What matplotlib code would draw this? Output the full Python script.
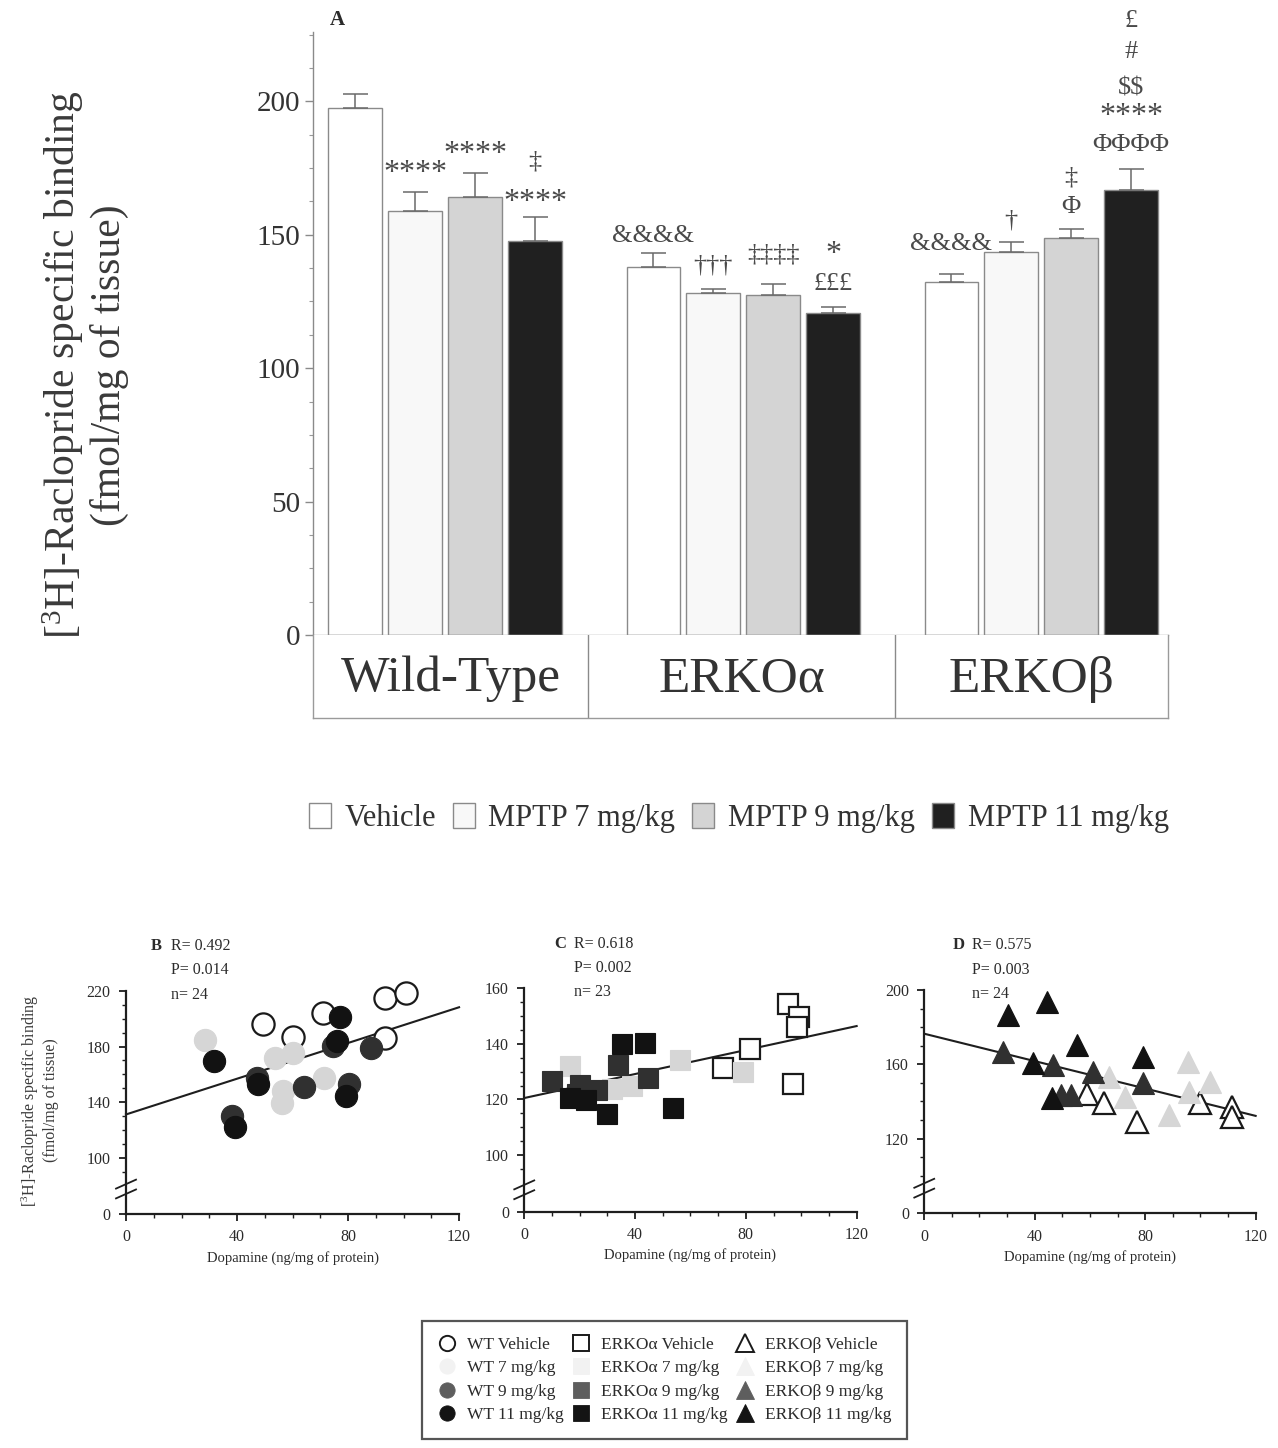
import numpy as np
import matplotlib
matplotlib.use("Agg")
import matplotlib.pyplot as plt
from matplotlib.patches import Patch
from matplotlib.lines import Line2D
from matplotlib.ticker import FixedLocator, MultipleLocator

plt.rcParams["font.family"] = ["Liberation Serif", "DejaVu Serif"]
plt.rcParams["mathtext.fontset"] = "custom"
plt.rcParams["mathtext.rm"] = "Liberation Serif"
plt.rcParams["mathtext.it"] = "Liberation Serif:italic"

TXT = "#2b2b2b"

# ==========================
# PANEL A DATA
# ==========================
groups = ["Wild-Type", "ERKOα", "ERKOβ"]
treatments = ["Vehicle", "MPTP 7 mg/kg", "MPTP 9 mg/kg", "MPTP 11 mg/kg"]
bar_colors = ["#ffffff", "#f8f8f8", "#d4d4d4", "#202020"]

means = [
    [197.4, 158.8, 164.0, 147.8],   # Wild-Type
    [138.1, 128.0, 127.3, 120.6],   # ERKOa
    [132.4, 143.6, 148.8, 166.9],   # ERKOb
]
sems = [
    [5.4, 7.1, 9.1, 9.0],
    [4.9, 1.8, 4.2, 2.4],
    [2.9, 3.7, 3.3, 7.6],
]

# (group, bar, symbols, y position)
marks = [
    (0, 1, "****", 173.0), (0, 2, "****", 180.0),
    (0, 3, "‡", 177.5), (0, 3, "****", 162.0),
    (1, 0, "&&&&", 149.5), (1, 1, "†††", 138.5), (1, 2, "‡‡‡‡", 142.5),
    (1, 3, "*", 142.5), (1, 3, "£££", 131.5),
    (2, 0, "&&&&", 146.5), (2, 1, "†", 155.5),
    (2, 2, "‡", 171.5), (2, 2, "Φ", 160.5),
    (2, 3, "£", 230.0), (2, 3, "#", 218.5), (2, 3, r"\$\$", 205.0),
    (2, 3, "****", 194.5), (2, 3, "ΦΦΦΦ", 183.5),
]

# ==========================
# PANELS B-D DATA (dopamine vs binding)
# ==========================
wt_veh_x = [49.4, 60.3, 70.8, 93.3, 100.8, 93.3]
wt_veh_y = [196.0, 186.6, 204.4, 215.2, 218.3, 185.9]
wt_7_x = [28.5, 53.7, 60.0, 56.7, 56.1, 71.3]
wt_7_y = [184.7, 171.5, 175.1, 148.1, 139.1, 157.1]
wt_9_x = [47.1, 64.1, 74.7, 88.1, 80.4, 38.3]
wt_9_y = [157.1, 150.6, 180.4, 178.7, 153.0, 130.1]
wt_11_x = [31.7, 47.4, 39.3, 76.2, 77.1, 79.2]
wt_11_y = [169.8, 153.0, 121.8, 184.0, 201.0, 144.5]

ka_veh_x = [95.3, 99.3, 98.3, 81.5, 71.6, 96.9]
ka_veh_y = [154.4, 149.6, 146.2, 138.1, 131.2, 125.6]
ka_7_x = [16.5, 31.6, 38.8, 56.2, 79.1]
ka_7_y = [132.1, 123.7, 124.9, 134.2, 130.0]
ka_9_x = [20.1, 26.1, 33.7, 44.8, 9.9, 19.0]
ka_9_y = [125.2, 123.4, 132.4, 127.6, 126.8, 122.0]
ka_11_x = [16.5, 22.3, 29.7, 35.2, 43.6, 53.8]
ka_11_y = [120.4, 119.8, 114.7, 139.9, 140.2, 116.8]

kb_veh_x = [59.0, 65.1, 76.9, 99.8, 111.3, 111.3]
kb_veh_y = [143.9, 139.2, 129.0, 139.1, 137.1, 131.4]
kb_7_x = [67.0, 72.7, 88.7, 95.6, 95.9, 103.4]
kb_7_y = [153.3, 142.5, 132.6, 161.4, 145.2, 150.6]
kb_9_x = [28.4, 46.5, 61.0, 79.3, 49.7, 53.0]
kb_9_y = [166.7, 159.6, 156.0, 149.7, 143.4, 143.4]
kb_11_x = [30.4, 44.3, 39.2, 55.2, 79.3, 46.1]
kb_11_y = [186.5, 193.7, 160.5, 170.4, 164.0, 141.6]

# regression lines, y at dopamine = 0 and 120
fit_x = [0, 120]
fit_b = [131.1, 208.3]
fit_c = [120.5, 146.4]
fit_d = [176.5, 132.2]

stats_b = ["R= 0.492", "P= 0.014", "n= 24"]
stats_c = ["R= 0.618", "P= 0.002", "n= 23"]
stats_d = ["R= 0.575", "P= 0.003", "n= 24"]

pt_colors = {"veh": "none", "7": "#d6d6d6", "9": "#303030", "11": "#121212"}


def broken_scale(ax, y_break, y_zero):
    """Linear axis above y_break, 0..y_break squeezed into y_zero..y_break."""
    def fwd(y):
        y = np.asarray(y, dtype=float)
        return np.where(y >= y_break, y, y_zero + y * (y_break - y_zero) / y_break)

    def inv(v):
        v = np.asarray(v, dtype=float)
        return np.where(v >= y_break, v, (v - y_zero) * y_break / (y_break - y_zero))

    ax.set_yscale("function", functions=(fwd, inv))


def style_small(ax, ymax, majors, minors, y_break, y_zero, brk_frac):
    broken_scale(ax, y_break, y_zero)
    ax.set_xlim(0, 120)
    ax.set_ylim(0, ymax)
    ax.yaxis.set_major_locator(FixedLocator(majors))
    ax.yaxis.set_minor_locator(FixedLocator(minors))
    ax.xaxis.set_major_locator(FixedLocator([0, 40, 80, 120]))
    ax.xaxis.set_minor_locator(MultipleLocator(10))
    ax.yaxis.set_major_formatter(matplotlib.ticker.FuncFormatter(lambda v, p: f"{v:.0f}"))
    for s in ["top", "right"]:
        ax.spines[s].set_visible(False)
    for s in ["left", "bottom"]:
        ax.spines[s].set_linewidth(1.6)
        ax.spines[s].set_color("#1e1e1e")
    ax.tick_params(axis="both", which="major", length=5, width=1.3, labelsize=11.5,
                   colors="#1e1e1e", labelcolor=TXT, pad=6)
    ax.tick_params(axis="both", which="minor", length=3, width=1.0, colors="#1e1e1e")
    ax.set_xlabel("Dopamine (ng/mg of protein)", fontsize=10.5, color=TXT, labelpad=4)
    # axis break marks
    for off in (-0.022, 0.022):
        ax.plot([-0.03, 0.03], [brk_frac + off - 0.02, brk_frac + off + 0.02],
                transform=ax.transAxes, color="#1e1e1e", lw=1.3, clip_on=False)


def put_stats(ax, letter, lines, x0):
    ax.text(x0, 1.20, letter, transform=ax.transAxes, fontsize=12, fontweight="bold",
            color=TXT, va="center")
    for i, s in enumerate(lines):
        ax.text(x0 + 0.06, 1.20 - i * 0.108, s, transform=ax.transAxes, fontsize=11.5,
                color=TXT, va="center")


fig = plt.figure(figsize=(12.78, 14.48), dpi=100)

# ==========================
# PANEL A
# ==========================
axA = fig.add_axes([0.2449, 0.5615, 0.6690, 0.4164])
pitch, width = 0.2013, 0.178
for g in range(3):
    for i in range(4):
        xc = g + (i - 1.5) * pitch
        axA.bar(xc, means[g][i], width=width, color=bar_colors[i],
                edgecolor="#8a8a8a", linewidth=1.0, zorder=2)
        axA.errorbar(xc, means[g][i], yerr=[[0], [sems[g][i]]], fmt="none",
                     ecolor="#6a6a6a", elinewidth=1.1, capsize=9, capthick=1.1, zorder=3)

for g, i, sym, y in marks:
    xc = g + (i - 1.5) * pitch
    fs = 23 if "*" in sym else 19
    axA.text(xc, y, sym, ha="center", va="center", fontsize=fs, color="#4a4a4a",
             clip_on=False)

axA.set_xlim(-0.443, 2.426)
axA.set_ylim(0, 226)
axA.yaxis.set_major_locator(FixedLocator([0, 50, 100, 150, 200]))
axA.yaxis.set_minor_locator(MultipleLocator(12.5))
axA.set_xticks([])
for s in ["top", "right"]:
    axA.spines[s].set_visible(False)
axA.spines["left"].set_color("#8a8a8a")
axA.spines["bottom"].set_color("#9a9a9a")
axA.spines["left"].set_linewidth(1.0)
axA.spines["bottom"].set_linewidth(1.0)
axA.tick_params(axis="y", which="major", length=6, width=1.0, colors="#8a8a8a",
                labelsize=21, labelcolor="#333333", pad=3)
axA.tick_params(axis="y", which="minor", length=3, width=0.8, colors="#9a9a9a")
axA.text(0.02, 1.02, "A", transform=axA.transAxes, fontsize=15, fontweight="bold",
         color=TXT, va="center", ha="left")

fig.text(0.066, 0.748,
         "[$^3$H]-Raclopride specific binding\n(fmol/mg of tissue)",
         rotation=90, ha="center", va="center", fontsize=30, color="#3a3a3a",
         linespacing=1.15, multialignment="center")

# group name table under the bars
axT = fig.add_axes([0.2449, 0.5041, 0.6690, 0.0573])
axT.set_xlim(-0.443, 2.426)
axT.set_ylim(0, 1)
axT.set_xticks([])
axT.set_yticks([])
for s in axT.spines.values():
    s.set_color("#9a9a9a")
    s.set_linewidth(1.0)
axT.spines["top"].set_visible(False)
for xb in (0.480, 1.510):
    axT.axvline(xb, color="#8a8a8a", lw=1.0)
for name, xc in zip(groups, [0.019, 0.995, 1.968]):
    axT.text(xc, 0.47, name, ha="center", va="center", fontsize=37, color="#333333")

legA = [Patch(facecolor=c, edgecolor="#8a8a8a", linewidth=1.0) for c in bar_colors]
fig.legend(legA, treatments, loc="center", bbox_to_anchor=(0.578, 0.435), ncol=4,
           frameon=False, fontsize=22, handlelength=0.72, handleheight=0.9,
           handletextpad=0.45, columnspacing=0.55, labelcolor="#333333")

# ==========================
# PANELS B, C, D
# ==========================
axB = fig.add_axes([0.0986, 0.1616, 0.2606, 0.1540])
axC = fig.add_axes([0.4102, 0.1632, 0.2601, 0.1543])
axD = fig.add_axes([0.7232, 0.1620, 0.2593, 0.1542])

style_small(axB, 220, [0, 100, 140, 180, 220],
            [90, 110, 120, 130, 150, 160, 170, 190, 200, 210], 80, 59.4, 0.112)
style_small(axC, 160, [0, 100, 120, 140, 160],
            [95, 105, 110, 115, 125, 130, 135, 145, 150, 155], 90, 79.6, 0.098)
style_small(axD, 200, [0, 120, 160, 200],
            [100, 110, 130, 140, 150, 170, 180, 190], 95, 79.6, 0.113)


def scatter_set(ax, marker, ms, xs_list, ys_list):
    keys = ["veh", "7", "9", "11"]
    for k, xs, ys in zip(keys, xs_list, ys_list):
        if k == "veh":
            ax.plot(xs, ys, ls="none", marker=marker, ms=ms, mfc="white", mec="#1a1a1a",
                    mew=1.6, clip_on=False, zorder=3)
        else:
            ax.plot(xs, ys, ls="none", marker=marker, ms=ms, mfc=pt_colors[k],
                    mec=pt_colors[k], mew=0.8, clip_on=False, zorder=3)


scatter_set(axB, "o", 16, [wt_veh_x, wt_7_x, wt_9_x, wt_11_x],
            [wt_veh_y, wt_7_y, wt_9_y, wt_11_y])
scatter_set(axC, "s", 14, [ka_veh_x, ka_7_x, ka_9_x, ka_11_x],
            [ka_veh_y, ka_7_y, ka_9_y, ka_11_y])
scatter_set(axD, "^", 16, [kb_veh_x, kb_7_x, kb_9_x, kb_11_x],
            [kb_veh_y, kb_7_y, kb_9_y, kb_11_y])

for ax, fy in [(axB, fit_b), (axC, fit_c), (axD, fit_d)]:
    ax.plot(fit_x, fy, color="#1e1e1e", lw=1.5, zorder=2, clip_on=False)

put_stats(axB, "B", stats_b, 0.075)
put_stats(axC, "C", stats_c, 0.09)
put_stats(axD, "D", stats_d, 0.085)

fig.text(0.031, 0.240,
         "[$^3$H]-Raclopride specific binding\n(fmol/mg of tissue)",
         rotation=90, ha="center", va="center", fontsize=11.5, color="#3a3a3a",
         linespacing=1.15, multialignment="center")

# ==========================
# LEGEND FOR B-D
# ==========================
leg_labels = ["WT Vehicle", "WT 7 mg/kg", "WT 9 mg/kg", "WT 11 mg/kg",
              "ERKOα Vehicle", "ERKOα 7 mg/kg", "ERKOα 9 mg/kg", "ERKOα 11 mg/kg",
              "ERKOβ Vehicle", "ERKOβ 7 mg/kg", "ERKOβ 9 mg/kg", "ERKOβ 11 mg/kg"]
leg_fill = ["white", "#f2f2f2", "#5e5e5e", "#141414"]
handles = []
for mk, ms in [("o", 11), ("s", 12), ("^", 13)]:
    for j, fc in enumerate(leg_fill):
        ec = "#1a1a1a" if j == 0 else fc
        handles.append(Line2D([], [], ls="none", marker=mk, ms=ms, mfc=fc, mec=ec,
                              mew=1.4 if j == 0 else 0.6))
legB = fig.legend(handles, leg_labels, loc="center", bbox_to_anchor=(0.520, 0.047),
                  ncol=3, fontsize=12.5, frameon=True, fancybox=False, edgecolor="#2a2a2a",
                  handlelength=1.1, handletextpad=0.6, columnspacing=0.45,
                  labelspacing=0.42, borderpad=0.9, labelcolor=TXT)
legB.get_frame().set_linewidth(1.6)

fig.savefig("out.png", dpi=100, facecolor="white")
